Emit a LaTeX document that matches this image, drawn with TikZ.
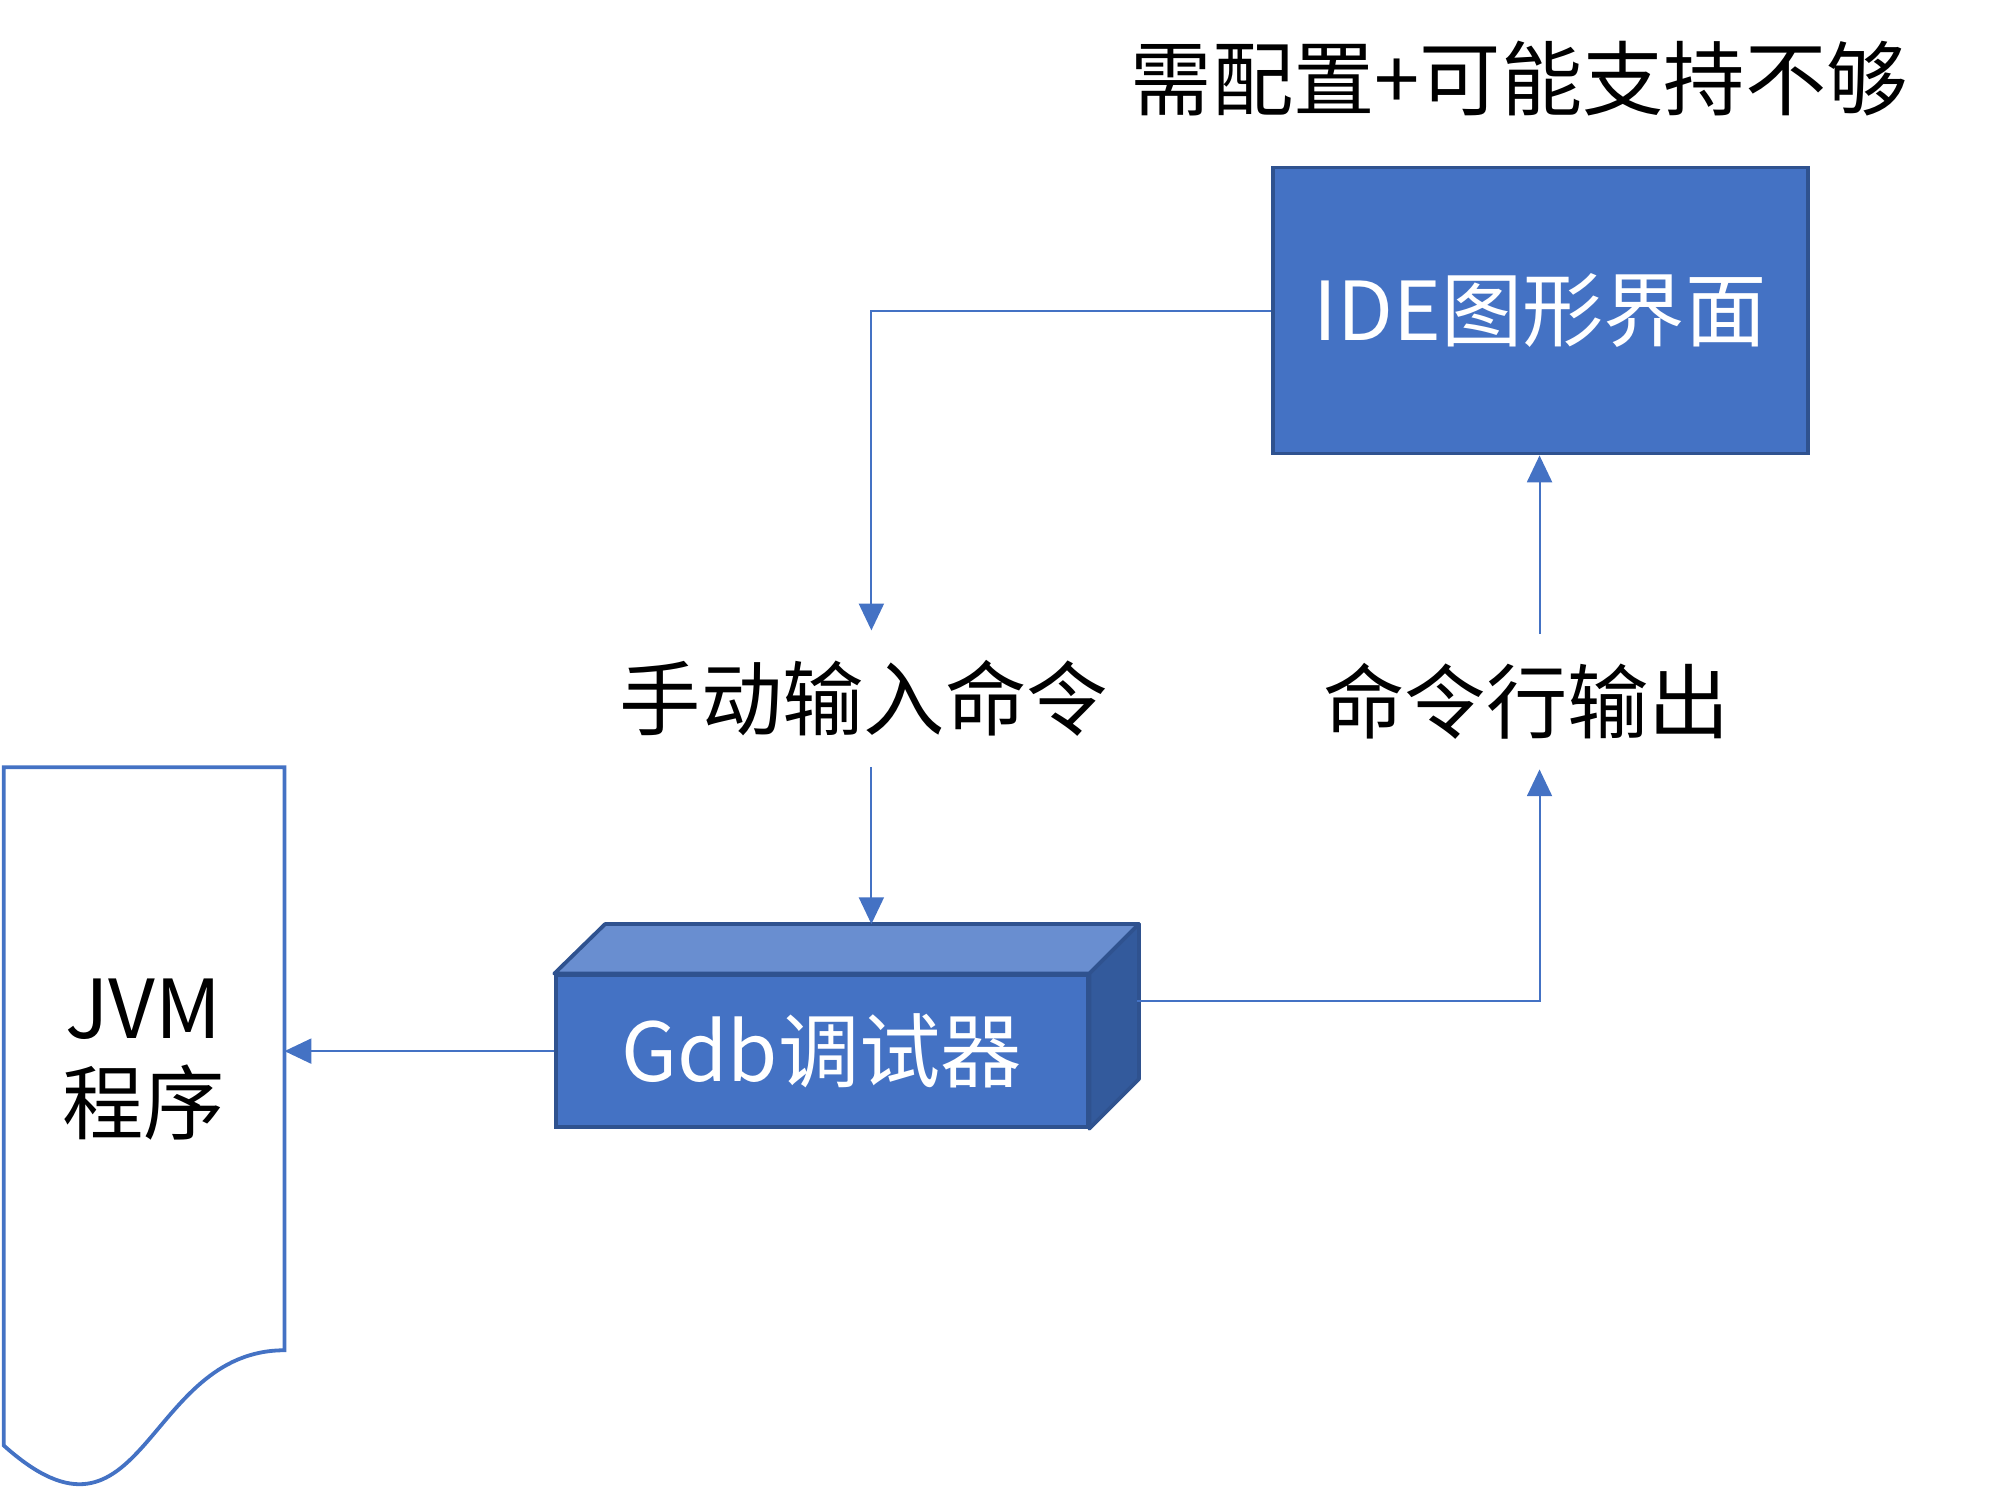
\documentclass[tikz,border=0pt]{standalone}
\usepackage{fontspec}
\setmainfont{Noto Sans CJK SC}
\usetikzlibrary{arrows.meta}
\definecolor{blu}{HTML}{4472C4}
\definecolor{bluedge}{HTML}{2F528F}
\definecolor{blutop}{HTML}{698ED0}
\definecolor{bluside}{HTML}{335A9C}
\begin{document}
\begin{tikzpicture}[x=0.01cm,y=-0.01cm,
  lbl/.style={inner sep=0pt, font=\fontsize{18.2}{21.3}\selectfont, text=black},
  bluebox/.style={draw=bluedge, fill=blu, line width=0.85pt, inner sep=0pt,
    text=white, font=\fontsize{18.2}{21.3}\selectfont},
  conn/.style={draw=blu, line width=0.45pt, -{Triangle[length=6pt,width=5.6pt]}}
]
\useasboundingbox (0,0) rectangle (1569,1176);

% top note
\node[lbl] (note) at (1196,62) {需配置+可能支持不够};

% IDE box
\node[bluebox, minimum width=4.21cm, minimum height=2.25cm] (ide) at (1212.5,244.5) {IDE图形界面};

% labels
\node[lbl, minimum height=1.06cm] (manual) at (680,550) {手动输入命令};
\node[lbl, minimum height=1.05cm] (cmdout) at (1202,552.5) {命令行输出};

% Gdb 3D box
\node[bluebox, minimum width=4.18cm, minimum height=1.19cm] (gdb) at (647,827.5) {Gdb调试器};
\coordinate (gtl) at ([shift={(40,-39)}]gdb.north west);
\coordinate (gtr) at ([shift={(39,-39)}]gdb.north east);
\coordinate (gbr) at ([shift={(39,-39)}]gdb.south east);
\draw[draw=bluedge, fill=blutop, line width=0.85pt, line join=round]
  (gdb.north west) -- (gtl) -- (gtr) -- (gdb.north east) -- cycle;
\draw[draw=bluedge, fill=bluside, line width=0.85pt, line join=round]
  (gdb.north east) -- (gtr) -- (gbr) -- (gdb.south east) -- cycle;
\coordinate (gside) at (895,788);

% JVM document shape
\draw[draw=blu, line width=0.85pt, fill=white, line join=miter]
  (3,604) -- (224,604) -- (224,1063)
  .. controls (113.5,1063) and (113.5,1237) .. (3,1138) -- cycle;
\node[lbl, align=center] (jvm) at (113,834) {JVM\\程序};
\coordinate (jvmR) at (224,827.5);

% connectors
\draw[conn] (ide.west) -| ([xshift=0.06cm]manual.north);
\draw[conn] ([xshift=0.06cm]manual.south) -- ([xshift=0.06cm]manual.south |- gtl);
\draw[conn] (gside) -| ([xshift=0.10cm]cmdout.south);
\draw[conn] ([xshift=0.10cm]cmdout.north) -- ([xshift=0.10cm]cmdout.north |- ide.south);
\draw[conn] (gdb.west) -- (gdb.west -| jvmR);
\end{tikzpicture}
\end{document}
